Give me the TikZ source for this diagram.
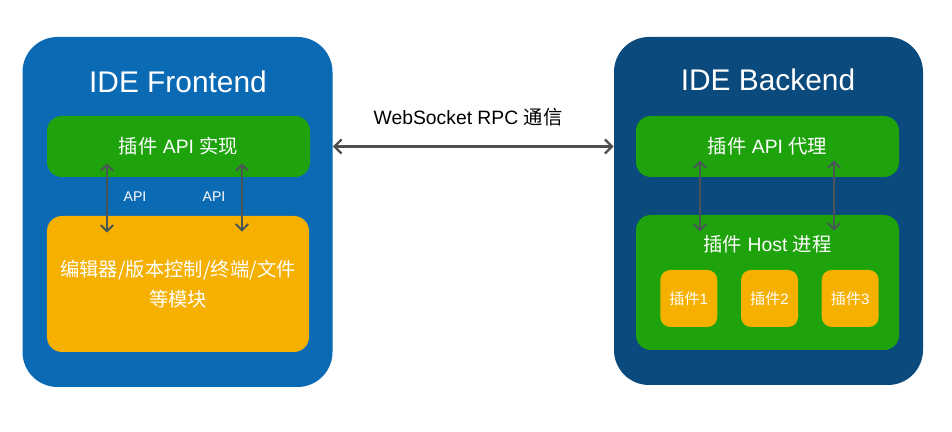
\documentclass[tikz,border=0pt]{standalone}
\usepackage{fontspec}
\setmainfont{Liberation Sans}
\newfontfamily\cjk{Noto Sans CJK SC}
\usetikzlibrary{arrows.meta,positioning,calc}
\definecolor{feblue}{HTML}{0A6AB4}
\definecolor{benavy}{HTML}{0B4A7D}
\definecolor{leaf}{HTML}{1EA30C}
\definecolor{amber}{HTML}{F5B000}
\definecolor{ink}{HTML}{4F4F4F}
\definecolor{linkgray}{HTML}{4A5656}
\tikzset{
  sidebox/.style={
    rectangle, rounded corners=0.7cm, fill=#1, draw=none,
    minimum width=6.2cm, minimum height=7cm, inner sep=0pt
  },
  sidebox/.default=feblue,
  sidetitle/.style={text=white, inner sep=0pt,
    font=\fontsize{17}{20}\selectfont},
  layerbox/.style={
    rectangle, rounded corners=0.3cm, fill=#1, draw=none,
    minimum width=5.26cm, text=white, align=center, inner sep=0pt,
    font=\fontsize{11}{17}\selectfont
  },
  layerbox/.default=leaf,
  plugbox/.style={
    rectangle, rounded corners=0.2cm, fill=amber, draw=none,
    minimum width=1.14cm, minimum height=1.14cm, inner sep=0pt,
    text=white, font=\fontsize{8.6}{10}\selectfont
  },
  apiarrow/.style={
    {Straight Barb[length=3.5pt,width=7pt]}-{Straight Barb[length=3.5pt,width=7pt]},
    line width=1.1pt, color=linkgray
  },
  rpcarrow/.style={
    {Straight Barb[length=4pt,width=8pt]}-{Straight Barb[length=4pt,width=8pt]},
    line width=1.3pt, color=ink
  },
  apilabel/.style={text=white, inner sep=0pt, font=\fontsize{8}{10}\selectfont},
}

\begin{document}
\begin{tikzpicture}
\useasboundingbox (0,0) rectangle (19.04,8.64);

% frontend side
\node[sidebox] (frontend) at (3.55,4.40) {};
\node[sidetitle] (fetitle) at (3.56,7.00) {IDE Frontend};
\node[layerbox, minimum height=1.22cm] (feapi) at (3.57,5.71)
  {{\cjk 插件} API {\cjk 实现}};
\node[layerbox=amber, minimum height=2.72cm, minimum width=5.24cm] (femod) at (3.56,2.96)
  {\cjk 编辑器/版本控制/终端/文件\\\cjk 等模块};
\draw[apiarrow] ([xshift=-1.43cm,yshift=0.28cm]feapi.south) -- ([xshift=-1.42cm,yshift=-0.34cm]femod.north);
\draw[apiarrow] ([xshift=1.27cm,yshift=0.28cm]feapi.south) -- ([xshift=1.28cm,yshift=-0.32cm]femod.north);
\node[apilabel] (api1) at (2.70,4.70) {API};
\node[apilabel] (api2) at (4.28,4.70) {API};

% backend side
\node[sidebox=benavy, minimum width=6.18cm, minimum height=6.96cm] (backend) at (15.37,4.42) {};
\node[sidetitle] (betitle) at (15.36,7.04) {IDE Backend};
\node[layerbox, minimum height=1.22cm] (beapi) at (15.35,5.71)
  {{\cjk 插件} API {\cjk 代理}};
\node[layerbox, minimum height=2.70cm] (host) at (15.35,2.99) {};
\node[layerbox, minimum width=0pt] (hosttitle) at ($(host.north)+(0,-0.6)$)
  {{\cjk 插件} Host {\cjk 进程}};
\node[plugbox] (plug2) at (15.39,2.67) {{\cjk 插件}2};
\node[plugbox, left=0.46cm of plug2] (plug1) {{\cjk 插件}1};
\node[plugbox, right=0.46cm of plug2] (plug3) {{\cjk 插件}3};
\draw[apiarrow] ([xshift=-1.35cm,yshift=0.34cm]beapi.south) -- ([xshift=-1.35cm,yshift=-0.34cm]host.north);
\draw[apiarrow] ([xshift=1.33cm,yshift=0.34cm]beapi.south) -- ([xshift=1.33cm,yshift=-0.32cm]host.north);

% rpc link
\draw[rpcarrow] (frontend.east |- feapi) -- (backend.west |- feapi);
\node[font=\fontsize{11}{13}\selectfont] (rpclabel) at (9.36,6.30)
  {WebSocket RPC {\cjk 通信}};
\end{tikzpicture}
\end{document}
